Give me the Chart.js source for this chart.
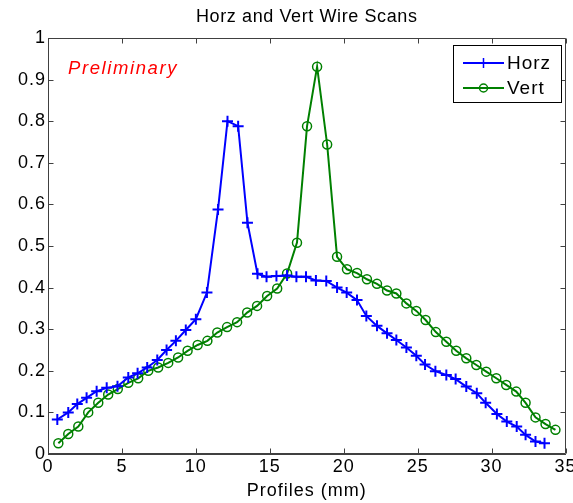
<!DOCTYPE html>
<html><head><meta charset="utf-8">
<script src="https://cdn.jsdelivr.net/npm/chart.js@4.4.0/dist/chart.umd.min.js"></script>
<style>html,body{margin:0;padding:0;background:#fff;}#wrap{width:573px;height:503px;}</style>
</head><body><div id="wrap"><canvas id="c" width="573" height="503"></canvas></div>
<script>
const titleText = 'Horz and Vert Wire Scans';
const xAxisTitle = 'Profiles (mm)';
const noteText = 'Preliminary';
const seriesNames = ['Horz', 'Vert'];

const horzX = [0.63,1.37,1.98,2.61,3.29,3.97,4.7,5.43,6.06,6.71,7.39,8.02,8.65,9.32,10.0,10.75,11.5,12.14,12.86,13.49,14.17,14.78,15.45,16.17,16.8,17.45,18.12,18.82,19.55,20.2,20.9,21.53,22.25,22.93,23.56,24.24,24.91,25.5,26.2,26.94,27.57,28.29,29.0,29.6,30.36,31.03,31.7,32.3,32.97,33.58];
const horzY = [0.083,0.10,0.12,0.135,0.151,0.159,0.163,0.184,0.194,0.208,0.226,0.25,0.272,0.298,0.324,0.388,0.588,0.80,0.788,0.556,0.433,0.426,0.428,0.429,0.426,0.426,0.417,0.416,0.40,0.388,0.37,0.332,0.308,0.29,0.274,0.256,0.236,0.215,0.199,0.19,0.18,0.162,0.146,0.123,0.096,0.078,0.066,0.046,0.03,0.026];

const vertX = [0.7,1.37,2.05,2.72,3.4,4.07,4.72,5.43,6.1,6.78,7.45,8.13,8.8,9.44,10.12,10.78,11.45,12.11,12.79,13.47,14.14,14.82,15.5,16.17,16.84,17.52,18.2,18.88,19.55,20.22,20.9,21.57,22.25,22.93,23.56,24.24,24.91,25.54,26.23,26.94,27.61,28.29,28.97,29.64,30.32,30.99,31.67,32.3,32.97,33.65,34.32];
const vertY = [0.026,0.048,0.066,0.10,0.123,0.143,0.156,0.171,0.182,0.20,0.208,0.219,0.232,0.248,0.262,0.272,0.292,0.305,0.317,0.34,0.356,0.38,0.398,0.434,0.508,0.788,0.931,0.744,0.474,0.444,0.435,0.42,0.409,0.393,0.386,0.362,0.344,0.322,0.293,0.27,0.248,0.23,0.214,0.198,0.182,0.166,0.15,0.123,0.088,0.072,0.058];

const xTicks = [0,5,10,15,20,25,30,35];
const xTickLabels = ['0','5','10','15','20','25','30','35'];
const yTicks = [0,0.1,0.2,0.3,0.4,0.5,0.6,0.7,0.8,0.9,1];
const yTickLabels = ['0','0.1','0.2','0.3','0.4','0.5','0.6','0.7','0.8','0.9','1'];

const FONT = "'Liberation Sans', Arial, Helvetica, sans-serif";
const AXIS_COLOR = '#404040';
const SPACING = '1px';

const spacingPlugin = {
  id: 'spacing',
  beforeUpdate(chart){ chart.ctx.letterSpacing = SPACING; },
  beforeLayout(chart){ chart.ctx.letterSpacing = SPACING; },
  beforeDraw(chart){ chart.ctx.letterSpacing = SPACING; }
};

const decorPlugin = {
  id: 'decor',
  afterDraw(chart){
    const ctx = chart.ctx;
    const a = chart.chartArea;
    const xs = chart.scales.x, ys = chart.scales.y;
    ctx.save();
    ctx.strokeStyle = AXIS_COLOR;
    ctx.lineWidth = 1;
    const L = Math.round(a.left)+0.5, R = Math.round(a.right)-0.5, T = Math.round(a.top)+0.5, B = Math.round(a.bottom)-0.5;
    ctx.beginPath();
    ctx.rect(L, T, R-L, B-T);
    ctx.stroke();
    const tl = 5;
    ctx.beginPath();
    xTicks.forEach(v=>{
      const p = Math.round(xs.getPixelForValue(v))+0.5;
      ctx.moveTo(p, B); ctx.lineTo(p, B-tl);
      ctx.moveTo(p, T); ctx.lineTo(p, T+tl);
    });
    yTicks.forEach(v=>{
      const p = Math.round(ys.getPixelForValue(v))+0.5;
      ctx.moveTo(L, p); ctx.lineTo(L+tl, p);
      ctx.moveTo(R, p); ctx.lineTo(R-tl, p);
    });
    ctx.stroke();

    // title centred over the axes
    ctx.letterSpacing = '0.6px';
    ctx.fillStyle = '#000';
    ctx.font = "18px " + FONT;
    ctx.textAlign = 'center';
    ctx.textBaseline = 'middle';
    ctx.fillText(titleText, (a.left + a.right) / 2, 17);

    ctx.letterSpacing = '1.6px';
    ctx.fillStyle = '#ff0000';
    ctx.font = "italic 18.5px " + FONT;
    ctx.textAlign = 'left';
    ctx.textBaseline = 'alphabetic';
    ctx.fillText(noteText, 68, 74);

    const bx = 453.5, by = 45.5, bw = 108, bh = 57;
    ctx.fillStyle = '#ffffff';
    ctx.fillRect(bx, by, bw, bh);
    ctx.strokeStyle = '#000000';
    ctx.strokeRect(bx, by, bw, bh);
    ctx.letterSpacing = SPACING;
    ctx.font = "19px " + FONT;
    ctx.textBaseline = 'middle';
    const rows = [63, 88];
    chart.data.datasets.forEach((ds, i)=>{
      const y = rows[i];
      ctx.strokeStyle = ds.borderColor;
      ctx.lineWidth = 2;
      ctx.beginPath(); ctx.moveTo(463, y); ctx.lineTo(504, y); ctx.stroke();
      ctx.lineWidth = 1.5;
      ctx.beginPath();
      if (ds.pointStyle === 'cross') {
        ctx.moveTo(483.5, y-5); ctx.lineTo(483.5, y+5);
        ctx.moveTo(478.5, y); ctx.lineTo(488.5, y);
      } else {
        ctx.arc(483.5, y, 4, 0, Math.PI*2);
      }
      ctx.stroke();
      ctx.fillStyle = '#000000';
      ctx.fillText(ds.label, 507, y+1);
    });
    ctx.restore();
  }
};

new Chart(document.getElementById('c'), {
  type: 'line',
  data: {
    datasets: [
      {
        label: seriesNames[0],
        data: horzX.map((x,i)=>({x:x, y:horzY[i]})),
        borderColor: '#0000ff',
        backgroundColor: '#0000ff',
        borderWidth: 2,
        pointStyle: 'cross',
        pointRadius: 5.5,
        pointBorderWidth: 2,
        pointBorderColor: '#0000ff',
        tension: 0,
        fill: false
      },
      {
        label: seriesNames[1],
        data: vertX.map((x,i)=>({x:x, y:vertY[i]})),
        borderColor: '#008000',
        backgroundColor: 'rgba(0,0,0,0)',
        borderWidth: 2,
        pointStyle: 'circle',
        pointRadius: 4.5,
        pointBorderWidth: 1.5,
        pointBorderColor: '#008000',
        pointBackgroundColor: 'rgba(0,0,0,0)',
        tension: 0,
        fill: false
      }
    ]
  },
  options: {
    responsive: false,
    animation: false,
    devicePixelRatio: 1,
    layout: { padding: { left: 0, right: 7, top: 38, bottom: 0 } },
    plugins: {
      legend: { display: false },
      tooltip: { enabled: false },
      title: { display: false }
    },
    scales: {
      x: {
        type: 'linear',
        min: 0, max: 35,
        afterBuildTicks: s => { s.ticks = xTicks.map(v=>({value:v})); },
        afterFit: s => { s.height = 49; s.paddingLeft = 0; s.paddingRight = 0; },
        ticks: {
          autoSkip: false, maxRotation: 0,
          color: '#000', padding: 2,
          font: { family: FONT, size: 18 },
          callback: (v, i) => xTickLabels[i]
        },
        grid: { display: false, drawTicks: false },
        border: { display: true, color: AXIS_COLOR },
        title: {
          display: true, text: xAxisTitle, color: '#000',
          font: { family: FONT, size: 18 },
          padding: { top: 0, bottom: 1 }
        }
      },
      y: {
        type: 'linear',
        min: 0, max: 1,
        afterBuildTicks: s => { s.ticks = yTicks.map(v=>({value:v})); },
        afterFit: s => { s.width = 48; s.paddingTop = 0; s.paddingBottom = 0; },
        ticks: {
          autoSkip: false,
          color: '#000', padding: 2,
          font: { family: FONT, size: 18 },
          callback: (v, i) => yTickLabels[i]
        },
        grid: { display: false, drawTicks: false },
        border: { display: true, color: AXIS_COLOR }
      }
    }
  },
  plugins: [spacingPlugin, decorPlugin]
});
</script>
</body></html>
